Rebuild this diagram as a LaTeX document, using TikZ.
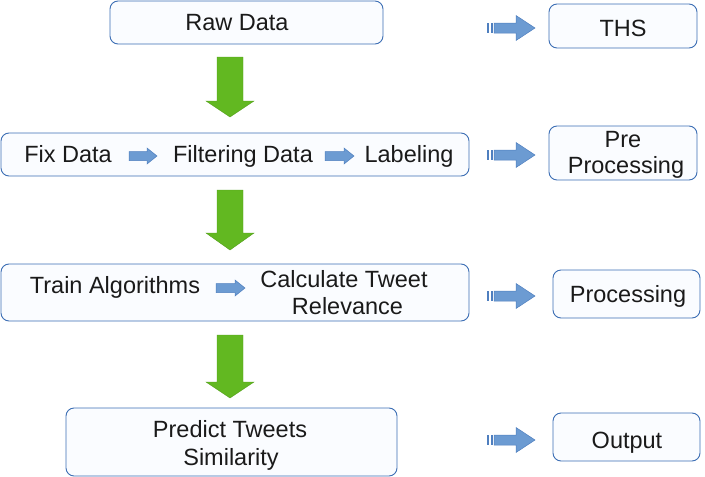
\documentclass[tikz,border=0pt]{standalone}
\usepackage{fontspec}
\setmainfont{Liberation Sans}
\definecolor{boxline}{HTML}{3C6EB4}
\definecolor{boxfill}{HTML}{FAFCFF}
\definecolor{agreen}{HTML}{62B821}
\definecolor{ablue}{HTML}{6C9BD2}
\definecolor{ablueline}{HTML}{4F7FBF}
\definecolor{txt}{HTML}{1A1A1A}
\tikzset{
  box/.style={draw=boxline, fill=boxfill, line width=0.9pt, rounded corners=8pt, inner sep=0pt},
  lbl/.style={anchor=base, inner sep=0pt, text=txt, font=\fontsize{23.5}{27}\selectfont},
  garrowst/.style={fill=agreen, draw=agreen!85!black, line width=0.4pt},
  barrowst/.style={fill=ablue, draw=ablueline, line width=0.5pt},
}
% green down arrow: x centre, top, head base, tip
\newcommand\mygarrow[4]{%
  \draw[garrowst] (#1-13,#2) -- (#1+13,#2) -- (#1+13,#3) -- (#1+24,#3) -- (#1,#4) -- (#1-24,#3) -- (#1-13,#3) -- cycle;}
% small blue arrow: left x, head base x, tip x, centre y
\newcommand\mysbarrow[4]{%
  \draw[barrowst] (#1,#4-4.5) -- (#2,#4-4.5) -- (#2,#4-8) -- (#3,#4) -- (#2,#4+8) -- (#2,#4+4.5) -- (#1,#4+4.5) -- cycle;}
% striped right-column arrow, centre y
\newcommand\mybbarrow[1]{%
  \fill[ablueline] (487,#1-5) rectangle (489,#1+5);
  \fill[ablueline] (490.5,#1-5) rectangle (492.5,#1+5);
  \draw[barrowst] (494,#1-5) -- (516,#1-5) -- (516,#1-12.5) -- (535,#1) -- (516,#1+12.5) -- (516,#1+5) -- (494,#1+5) -- cycle;}
\begin{document}
\begin{tikzpicture}[x=1pt,y=-1pt]
\useasboundingbox (0,0) rectangle (705,477);
% boxes
\node[box, minimum width=273pt, minimum height=43pt] (raw) at (246.5,22.5) {};
\node[box, minimum width=148pt, minimum height=44pt] (ths) at (623,26) {};
\node[box, minimum width=468pt, minimum height=43pt] (pre) at (235,154.5) {};
\node[box, minimum width=148pt, minimum height=54pt] (preR) at (623,153) {};
\node[box, minimum width=468pt, minimum height=57pt] (proc) at (235,292.5) {};
\node[box, minimum width=147pt, minimum height=48pt] (procR) at (626.5,294) {};
\node[box, minimum width=331pt, minimum height=68pt] (pred) at (231.5,442) {};
\node[box, minimum width=147pt, minimum height=48pt] (outR) at (626.5,437) {};
% texts
\node[lbl] (t1) at (237,30) {Raw Data};
\node[lbl] (t2) at (623,36) {THS};
\node[lbl] (fix) at (68,162) {Fix Data};
\node[lbl] (filt) at (243,162) {Filtering Data};
\node[lbl] (lab) at (409,162) {Labeling};
\node[lbl] (p1) at (623,147) {Pre};
\node[lbl] (p2) at (626,173) {Processing};
\node[lbl] (train) at (115,293) {Train Algorithms};
\node[lbl] (calc1) at (344,287) {Calculate Tweet};
\node[lbl] (calc2) at (347.5,314) {Relevance};
\node[lbl] (pr) at (628,302) {Processing};
\node[lbl] (pt1) at (230,437) {Predict Tweets};
\node[lbl] (pt2) at (231,465) {Similarity};
\node[lbl] (out) at (627,448) {Output};
% green arrows
\mygarrow{230}{57}{101}{117}
\mygarrow{230}{190}{233}{250}
\mygarrow{230}{335}{382}{398}
% small blue arrows
\mysbarrow{129}{147}{157}{156}
\mysbarrow{325}{344}{354}{156}
\mysbarrow{216}{235}{245}{288}
% right column arrows
\mybbarrow{28}
\mybbarrow{155}
\mybbarrow{296}
\mybbarrow{440}
\end{tikzpicture}
\end{document}
